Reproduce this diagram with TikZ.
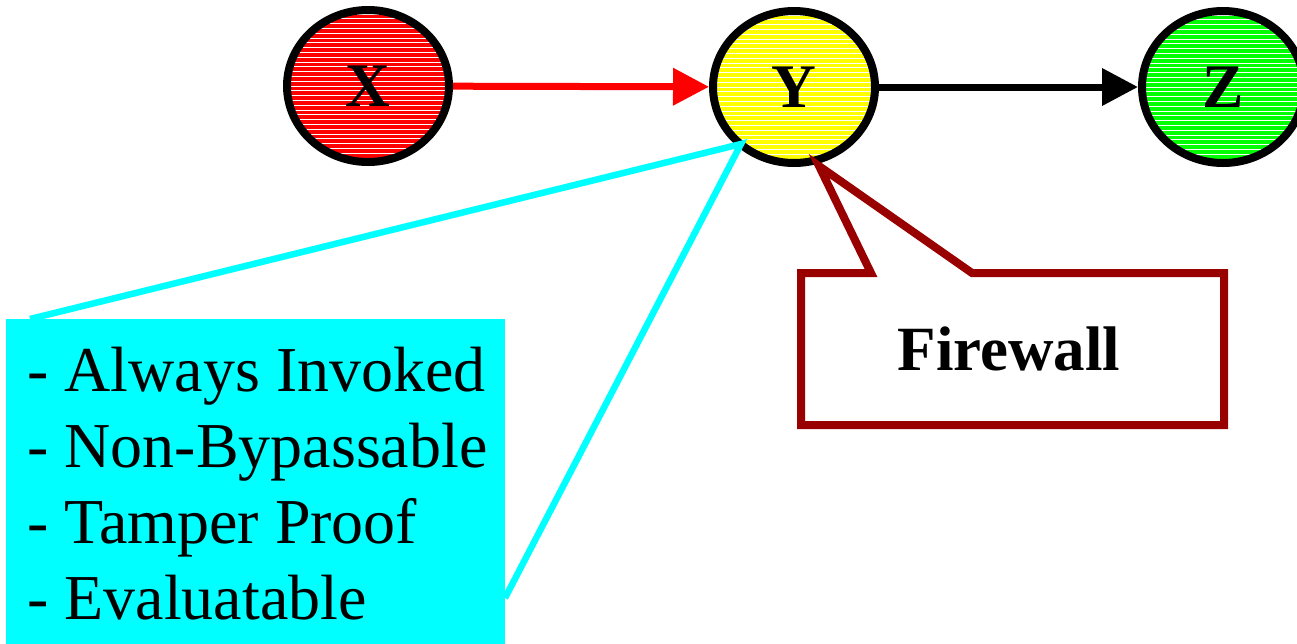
\documentclass[tikz,border=0pt]{standalone}
\usepackage{fontspec}
\setmainfont{Liberation Serif}
\usetikzlibrary{arrows.meta,shapes.geometric}
\definecolor{fwred}{RGB}{153,0,0}
\definecolor{cy}{RGB}{0,255,255}
\definecolor{rd}{RGB}{255,0,0}
\definecolor{yl}{RGB}{255,255,0}
\definecolor{gr}{RGB}{0,255,0}
\tikzset{
  ball/.style={ellipse, draw=black, line width=8pt, minimum width=162pt, minimum height=152pt,
    inner sep=0pt, font=\fontsize{62}{62}\selectfont\bfseries,
    path picture={\foreach \k in {-17,...,17}
      \draw[white, line width=1pt] ([yshift=\k*4.8pt]path picture bounding box.west) -- ([yshift=\k*4.8pt]path picture bounding box.east);}},
  flow/.style={line width=7pt, -{Triangle[length=36pt,width=36pt]}},
  cyanline/.style={draw=cy, line width=6.5pt, line join=miter},
  fwline/.style={draw=fwred, line width=8pt, line join=miter},
}
\begin{document}
\begin{tikzpicture}[x=1pt, y=-1pt]
\useasboundingbox (0,0) rectangle (1297,643);
% nodes
\node[ball, fill=rd] (X) at (368,86) {X};
\node[ball, fill=yl] (Y) at (794,87) {Y};
\node[ball, fill=gr] (Z) at (1223,87) {Z};
% arrows
\draw[flow, draw=rd, fill=rd] (X) -- (Y);
\draw[flow, draw=black, fill=black] (Y) -- (Z);
% cyan callout
\coordinate (ctip) at (741,144);
\coordinate (cl) at (30,319);
\coordinate (cr) at (505,598);
\draw[cyanline] (cl) -- (ctip) -- (cr);
\node[fill=cy, inner sep=0pt, outer sep=0pt, minimum width=499pt, minimum height=340pt, anchor=north west] (box) at (6,319) {};
\node[anchor=north west, align=left, inner sep=0pt, font=\fontsize{64}{76}\selectfont] (list) at (27,347)
  {- Always Invoked\\- Non-Bypassable\\- Tamper Proof\\- Evaluatable};
% firewall callout
\node[inner sep=0pt, outer sep=0pt, minimum width=423pt, minimum height=152pt,
  font=\fontsize{63}{63}\selectfont\bfseries] (fw) at (1009,349) {Firewall};
\coordinate (fwl) at (871,273);
\coordinate (fwr) at (972,273);
\coordinate (fwtip) at (819,166);
\draw[fwline] ([xshift=3.5pt]fw.north west) -- (fwl) -- (fwtip) -- (fwr) -- ([xshift=3.5pt]fw.north east) -- ([xshift=3.5pt]fw.south east) -- ([xshift=3.5pt]fw.south west) -- cycle;
\end{tikzpicture}
\end{document}
